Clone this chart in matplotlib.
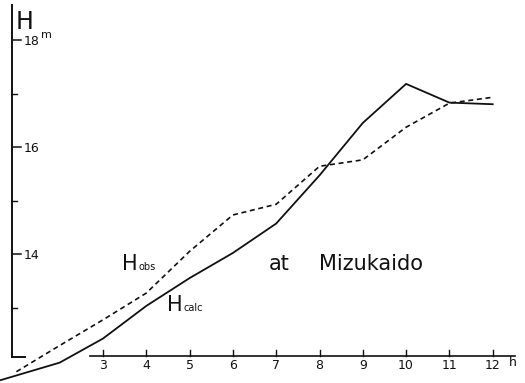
import matplotlib
matplotlib.use("Agg")
import matplotlib.pyplot as plt

# hours and water level H (m) at Mizukaido
hours_calc = [0, 1, 2, 3, 4, 5, 6, 7, 8, 9, 10, 11, 12]
h_calc = [11.49, 11.73, 11.97, 12.42, 13.03, 13.55, 14.02, 14.57, 15.47, 16.45, 17.18, 16.83, 16.80]

hours_obs = [1, 2, 3, 4, 5, 6, 7, 8, 9, 10, 11, 12]
h_obs = [11.80, 12.29, 12.77, 13.27, 14.05, 14.73, 14.93, 15.64, 15.76, 16.37, 16.82, 16.93]

x_ticks = [3, 4, 5, 6, 7, 8, 9, 10, 11, 12]
y_major = [18, 16, 14]
y_minor = [17, 15, 13]

fig = plt.figure(figsize=(5.25, 3.83), dpi=100)
ax = fig.add_axes([0, 0, 1, 1])
ax.set_xlim(0.621, 12.746)
ax.set_ylim(11.589, 18.748)
ax.axis('off')

ink = '#111111'

# curves
ax.plot(hours_calc, h_calc, color=ink, lw=1.3)
ax.plot(hours_obs, h_obs, color=ink, lw=1.2, linestyle=(0, (3, 2.2)))

# hand drawn axes
x0 = 0.898          # y-axis position (hours)
y0 = 12.09          # x-axis position (m)
ax.plot([x0, x0], [12.07, 18.65], color=ink, lw=1.4)
ax.plot([x0, x0 + 0.3], [12.07, 12.07], color=ink, lw=1.4)
ax.plot([2.7, 12.51], [y0, y0], color=ink, lw=1.2)

for t in y_major:
    ax.plot([x0, x0 + 0.2], [t, t], color=ink, lw=1.1)
    ax.text(x0 + 0.27, t - 0.02, str(t), fontsize=9, va='center', ha='left', color=ink)
for t in y_minor:
    ax.plot([x0, x0 + 0.12], [t, t], color=ink, lw=1.0)
ax.text(x0 + 0.68, 18.1, 'm', fontsize=8, va='center', ha='left', color=ink)
ax.text(0.99, 18.2, 'H', fontsize=17, va='baseline', ha='left', color=ink)

for t in x_ticks:
    ax.plot([t, t], [y0, y0 + 0.11], color=ink, lw=1.0)
    ax.text(t, 11.91, str(t), fontsize=9, va='center', ha='center', color=ink)
ax.text(12.38, 11.97, 'h', fontsize=9, va='center', ha='left', color=ink)

# labels
ax.text(3.44, 13.70, 'H', fontsize=15, va='baseline', ha='left', color=ink)
ax.text(3.82, 13.70, 'obs', fontsize=7, va='baseline', ha='left', color=ink)
ax.text(4.47, 12.94, 'H', fontsize=15, va='baseline', ha='left', color=ink)
ax.text(4.85, 12.94, 'calc', fontsize=7, va='baseline', ha='left', color=ink)
ax.text(6.82, 13.70, 'at', fontsize=15, va='baseline', ha='left', color=ink)
ax.text(7.98, 13.70, 'Mizukaido', fontsize=15, va='baseline', ha='left', color=ink)

plt.savefig('out.png', dpi=100)
